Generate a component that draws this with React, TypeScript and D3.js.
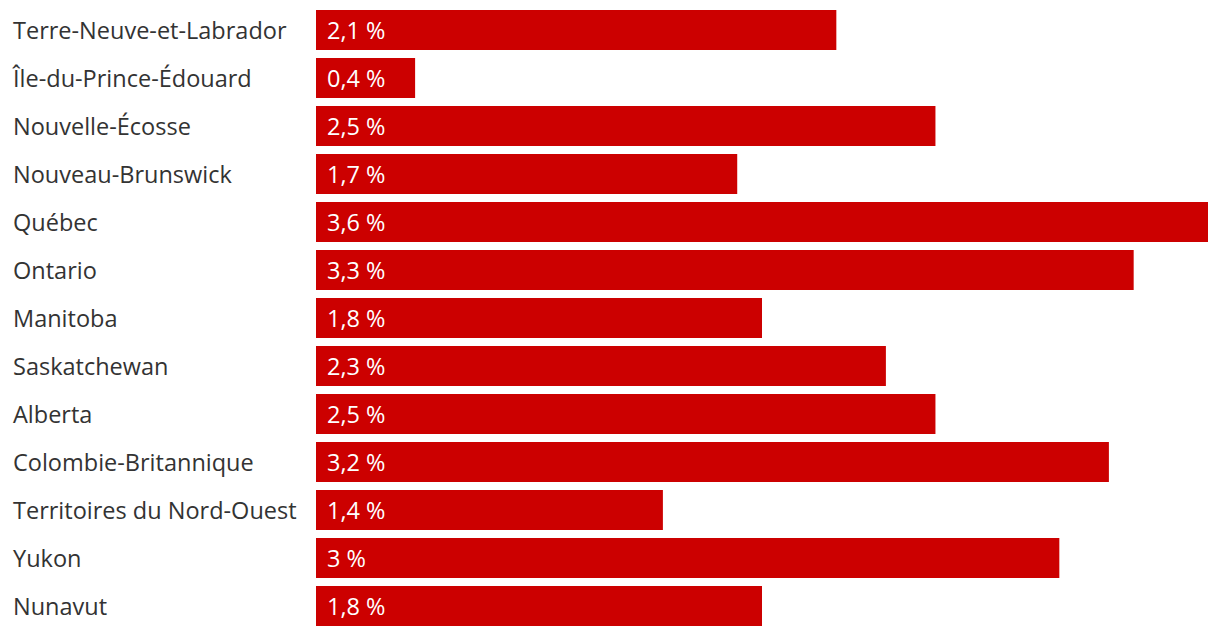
import React from "react";
import * as d3 from "d3";

const provinces = [
  "Terre-Neuve-et-Labrador",
  "Île-du-Prince-Édouard",
  "Nouvelle-Écosse",
  "Nouveau-Brunswick",
  "Québec",
  "Ontario",
  "Manitoba",
  "Saskatchewan",
  "Alberta",
  "Colombie-Britannique",
  "Territoires du Nord-Ouest",
  "Yukon",
  "Nunavut",
];
const values = [2.1, 0.4, 2.5, 1.7, 3.6, 3.3, 1.8, 2.3, 2.5, 3.2, 1.4, 3.0, 1.8];

const W = 1220;
const H = 636;

const fmt = (v: number) => String(v).replace(".", ",") + " %";

export default function App() {
  const x = d3.scaleLinear().domain([0, 3.6]).range([316, 1208]);
  const y = d3
    .scaleBand<string>()
    .domain(provinces)
    .range([6, 630])
    .paddingInner(8 / 48)
    .paddingOuter(4 / 48);
  return (
    <svg
      width={W}
      height={H}
      style={{ position: "absolute", left: 0, top: 0, fontFamily: "'Open Sans', sans-serif" }}
    >
      {provinces.map((p, i) => {
        const yy = y(p)!;
        const cy = yy + y.bandwidth() / 2;
        return (
          <g key={p}>
            <text x={13} y={cy} dy="0.4em" fontSize={23.5} fill="#333">
              {p}
            </text>
            <rect x={x(0)} y={yy} width={x(values[i]) - x(0)} height={y.bandwidth()} fill="#cc0000" />
            <text x={x(0) + 11} y={cy} dy="0.4em" fontSize={23.5} fill="#fff">
              {fmt(values[i])}
            </text>
          </g>
        );
      })}
    </svg>
  );
}
